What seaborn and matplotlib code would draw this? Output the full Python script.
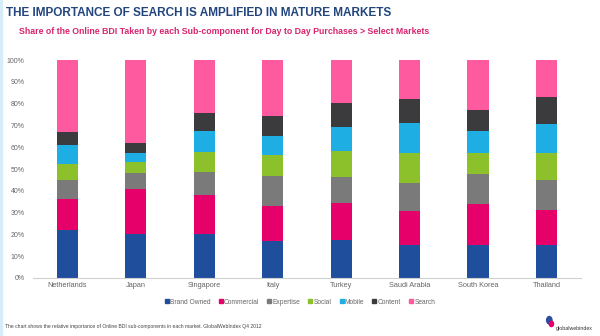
import numpy as np
import pandas as pd
import matplotlib
matplotlib.use("Agg")
import matplotlib.pyplot as plt
import seaborn as sns
from matplotlib.lines import Line2D
from matplotlib.patches import Rectangle, Ellipse

markets = ["Netherlands", "Japan", "Singapore", "Italy", "Turkey",
           "Saudi Arabia", "South Korea", "Thailand"]
components = ["Brand Owned", "Commercial", "Expertise", "Social", "Mobile", "Content", "Search"]
brand_owned = [22, 20, 20, 17, 17.5, 15, 15, 15]
commercial = [14, 21, 18, 16, 17, 15.5, 19, 16]
expertise = [9, 7, 10.5, 14, 12, 13, 13.5, 14]
social = [7.5, 5, 9.5, 9.5, 12, 14, 10, 12.5]
mobile = [8.5, 4.5, 9.5, 8.5, 11, 13.5, 10, 13]
content = [6, 4.5, 8, 9.5, 11, 11, 9.5, 12.5]
search = [33, 38, 24.5, 25.5, 19.5, 18, 23, 17]
colors = ["#1f4e9c", "#e5006a", "#7a7a7a", "#8cc12c", "#1faee3", "#3b3b3d", "#fd5aa0"]

series = [brand_owned, commercial, expertise, social, mobile, content, search]
df = pd.DataFrame({c: v for c, v in zip(components, series)}, index=markets)
cum = df.cumsum(axis=1)

sns.set_theme(style="white")
plt.rcParams["font.family"] = ["Liberation Sans", "DejaVu Sans"]

fig = plt.figure(figsize=(6, 3.36), dpi=100)
ax = fig.add_axes([0.055, 0.173, 0.913, 0.648])

for comp, col in reversed(list(zip(components, colors))):
    sns.barplot(x=markets, y=cum[comp].values, color=col, width=0.31,
                ax=ax, saturation=1, linewidth=0)

ax.set_ylim(0, 100)
ax.set_xlim(-0.5, 7.5)
ax.set_yticks(np.arange(0, 101, 10))
ax.set_yticklabels([f"{v}%" for v in range(0, 101, 10)], fontsize=5, color="#666666")
ax.tick_params(axis="x", labelsize=5.3, labelcolor="#666666", length=0, pad=3)
ax.tick_params(axis="y", length=0, pad=6)
for s in ["top", "right", "left"]:
    ax.spines[s].set_visible(False)
ax.spines["bottom"].set_color("#d0d0d0")
ax.spines["bottom"].set_linewidth(0.8)
ax.set_xlabel("")
ax.set_ylabel("")

handles = [Line2D([0], [0], marker="s", color="none", markerfacecolor=c,
                  markeredgecolor=c, markersize=3) for c in colors]
fig.legend(handles, components, loc="center", bbox_to_anchor=(0.5, 0.101), ncol=7,
           frameon=False, fontsize=4.8, handlelength=0.6, handletextpad=0.2,
           columnspacing=1.2, labelcolor="#666666")

fig.text(0.01, 0.962, "THE IMPORTANCE OF SEARCH IS AMPLIFIED IN MATURE MARKETS",
         fontsize=8.5, fontweight="bold", color="#22457e", va="center", ha="left")
fig.text(0.031, 0.906, "Share of the Online BDI Taken by each Sub-component for Day to Day Purchases > Select Markets",
         fontsize=6.35, fontweight="bold", color="#d8246f", va="center", ha="left")
fig.text(0.008, 0.027, "The chart shows the relative importance of Online BDI sub-components in each market. GlobalWebIndex Q4 2012",
         fontsize=3.6, color="#444444", va="center", ha="left")
fig.text(0.988, 0.021, "globalwebindex", fontsize=3.8, color="#333333", va="center", ha="right")
fig.patches.append(Ellipse((0.9155, 0.047), 0.009, 0.022, transform=fig.transFigure,
                           color="#2a4fa0", zorder=1))
fig.patches.append(Ellipse((0.919, 0.036), 0.007, 0.016, transform=fig.transFigure,
                           color="#e5006a", zorder=1))
fig.patches.append(Rectangle((0.0, 0.0), 0.004, 1.0, transform=fig.transFigure,
                             color="#d6ecf8", zorder=0))

fig.savefig("out.png", dpi=100)
